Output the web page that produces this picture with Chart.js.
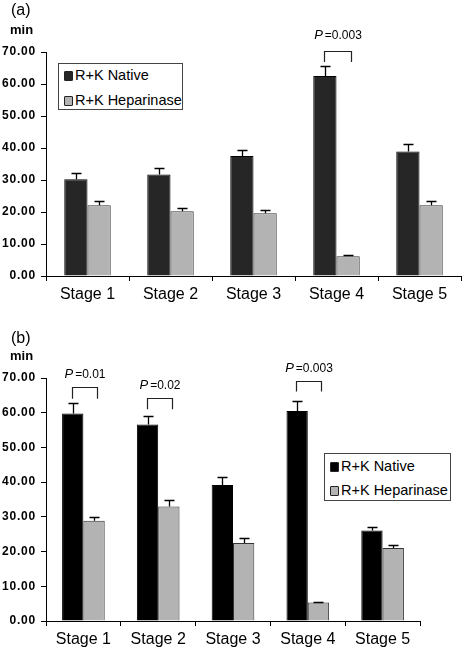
<!DOCTYPE html>
<html>
<head>
<meta charset="utf-8">
<script src="https://cdn.jsdelivr.net/npm/chart.js@4/dist/chart.umd.min.js"></script>
<style>
  html,body{margin:0;padding:0;background:#fff;}
  body{width:462px;height:651px;position:relative;overflow:hidden;font-family:"Liberation Sans",Arial,sans-serif;color:#000;}
  .wrap{position:absolute;left:0;width:462px;}
  .panel{position:absolute;left:11px;font-size:16px;line-height:20px;}
  .unit{position:absolute;left:10px;font-size:13px;font-weight:bold;line-height:16px;}
  .legend{position:absolute;border:1px solid #444;background:#fff;box-sizing:border-box;}
  .item{position:absolute;left:5px;height:20px;line-height:20px;font-size:14.5px;white-space:nowrap;}
  .sw{display:inline-block;width:7px;height:8px;border:1px solid #222;border-radius:1px;margin-right:2px;vertical-align:-1px;}
</style>
</head>
<body>
<script>
// ---------- data ----------
const stages = ['Stage 1', 'Stage 2', 'Stage 3', 'Stage 4', 'Stage 5'];
const seriesNames = ['R+K Native', 'R+K Heparinase'];
const yTickValues = [0, 10, 20, 30, 40, 50, 60, 70];

// panel (a)
const nativeA    = [30.2, 31.7, 37.5, 62.5, 38.9];
const nativeAErr = [2.0, 1.9, 1.9, 3.0, 2.3];
const heparA     = [22.1, 20.2, 19.6, 6.2, 22.1];
const heparAErr  = [1.2, 1.2, 1.1, 0.4, 1.2];

// panel (b)
const nativeB    = [59.8, 56.6, 39.2, 60.5, 26.1];
const nativeBErr = [3.1, 2.5, 2.3, 2.9, 1.1];
const heparB     = [28.9, 33.0, 22.5, 5.3, 21.0];
const heparBErr  = [1.2, 1.8, 1.3, 0.3, 0.9];

// significance annotations: stage index, p text, bracket levels (in minutes)
const pStageA = [3];
const pTextA  = ['=0.003'];
const pTopA   = [70.3];
const pLegA   = [66.9];
const pLabelA = [75.2];

const pStageB = [0, 1, 3];
const pTextB  = ['=0.01', '=0.02', '=0.003'];
const pTopB   = [67.3, 64.2, 69.2];
const pLegB   = [64.0, 61.0, 66.1];
const pLabelB = [70.9, 67.8, 72.8];
</script>

<div class="wrap" style="top:0;height:320px;">
  <canvas id="ca" width="462" height="320"></canvas>
  <div class="panel" style="top:0px;">(a)</div>
  <div class="unit" style="top:22px;">min</div>
  <div class="legend" style="left:58px;top:63px;width:125px;height:47px;">
    <div class="item" style="top:1px;"><span class="sw" style="background:#262626"></span>R+K Native</div>
    <div class="item" style="top:26px;"><span class="sw" style="background:#b3b3b3"></span>R+K Heparinase</div>
  </div>
</div>

<div class="wrap" style="top:320px;height:331px;">
  <canvas id="cb" width="462" height="331"></canvas>
  <div class="panel" style="top:8px;">(b)</div>
  <div class="unit" style="top:28px;">min</div>
  <div class="legend" style="left:324px;top:133px;width:127px;height:48px;">
    <div class="item" style="top:2px;"><span class="sw" style="background:#000"></span>R+K Native</div>
    <div class="item" style="top:26px;"><span class="sw" style="background:#b3b3b3"></span>R+K Heparinase</div>
  </div>
</div>

<script>
const FONT = '"Liberation Sans", Arial, sans-serif';

const ySpacingPlugin = {
  id: 'ySpacing',
  afterUpdate(chart) {
    const s = chart.scales.y;
    if (s && !s._spaced) {
      const orig = s.drawLabels;
      s.drawLabels = function (area) {
        const ctx = this.ctx;
        ctx.save();
        ctx.letterSpacing = '0.8px';
        orig.call(this, area);
        ctx.restore();
      };
      s._spaced = true;
    }
  }
};

function errorAndPPlugin(errs, stageIdx, texts, tops, legs, labels) {
  return {
    id: 'errP',
    afterDatasetsDraw(chart) {
      const ctx = chart.ctx, y = chart.scales.y;
      ctx.save();
      ctx.strokeStyle = '#000';
      ctx.lineWidth = 1.3;
      chart.data.datasets.forEach((ds, di) => {
        const meta = chart.getDatasetMeta(di);
        meta.data.forEach((bar, i) => {
          const v = ds.data[i], e = errs[di][i];
          const x = Math.round(bar.x) + 0.5;
          const y0 = y.getPixelForValue(v), y1 = Math.round(y.getPixelForValue(v + e)) + 0.5;
          ctx.beginPath();
          ctx.moveTo(x, y0); ctx.lineTo(x, y1);
          ctx.moveTo(x - 5, y1); ctx.lineTo(x + 5, y1);
          ctx.stroke();
        });
      });
      ctx.restore();
    },
    afterDraw(chart) {
      const ctx = chart.ctx, y = chart.scales.y;
      const m0 = chart.getDatasetMeta(0), m1 = chart.getDatasetMeta(1);
      ctx.save();
      ctx.strokeStyle = '#222';
      ctx.lineWidth = 1.2;
      stageIdx.forEach((si, k) => {
        const xl = Math.round(m0.data[si].x - 1) + 0.5;
        const xr = Math.round(m1.data[si].x + 3) + 0.5;
        const yt = Math.round(y.getPixelForValue(tops[k])) + 0.5;
        const yb = y.getPixelForValue(legs[k]);
        ctx.beginPath();
        ctx.moveTo(xl, yb); ctx.lineTo(xl, yt); ctx.lineTo(xr, yt); ctx.lineTo(xr, yb);
        ctx.stroke();
        // label: italic P followed by value
        const yl = y.getPixelForValue(labels[k]);
        const fP = 'italic 13px ' + FONT, fV = '12px ' + FONT;
        ctx.font = fP; const wP = ctx.measureText('P').width;
        ctx.font = fV; const wV = ctx.measureText(texts[k]).width;
        const gap = 2;
        const total = wP + gap + wV;
        const cx = (xl + xr) / 2;
        let sx = cx - total / 2;
        ctx.fillStyle = '#000';
        ctx.textBaseline = 'middle';
        ctx.textAlign = 'left';
        ctx.font = fP; ctx.fillText('P', sx, yl);
        ctx.font = fV; ctx.fillText(texts[k], sx + wP + gap, yl);
      });
      ctx.restore();
    }
  };
}

function makeChart(id, natData, hepData, natColor, errs, pInfo, pad, xHeight, catPct) {
  return new Chart(document.getElementById(id), {
    type: 'bar',
    data: {
      labels: stages,
      datasets: [
        { label: seriesNames[0], data: natData, backgroundColor: natColor, borderColor: '#000', borderWidth: 1, borderSkipped: 'bottom' },
        { label: seriesNames[1], data: hepData, backgroundColor: '#b3b3b3', borderColor: '#333', borderWidth: 1, borderSkipped: 'bottom' }
      ]
    },
    options: {
      responsive: false,
      animation: false,
      devicePixelRatio: 1,
      layout: { padding: pad },
      datasets: { bar: { categoryPercentage: catPct, barPercentage: 1.0 } },
      plugins: { legend: { display: false }, tooltip: { enabled: false }, title: { display: false } },
      scales: {
        x: {
          offset: true,
          grid: { display: true, offset: true, drawOnChartArea: false, drawTicks: true, tickLength: 5, color: '#000', lineWidth: 1 },
          border: { display: true, color: '#000', width: 1 },
          ticks: { color: '#000', font: { family: FONT, size: 16 }, padding: 4, maxRotation: 0 },
          afterFit(s) { s.height = xHeight; }
        },
        y: {
          min: 0, max: 70,
          afterBuildTicks(s) { s.ticks = yTickValues.map(v => ({ value: v })); },
          grid: { display: true, drawOnChartArea: false, drawTicks: true, tickLength: 5, color: '#000', lineWidth: 1 },
          border: { display: true, color: '#000', width: 1 },
          ticks: { color: '#000', font: { family: FONT, size: 12, weight: 'bold' }, padding: 5, callback: v => Number(v).toFixed(2) },
          afterFit(s) { s.width = 46; }
        }
      }
    },
    plugins: [ySpacingPlugin, errorAndPPlugin(errs, ...pInfo)]
  });
}

makeChart('ca', nativeA, heparA, '#262626', [nativeAErr, heparAErr],
  [pStageA, pTextA, pTopA, pLegA, pLabelA],
  { top: 52, right: 1, bottom: 0, left: 0 }, 44, 0.56);

makeChart('cb', nativeB, heparB, '#000000', [nativeBErr, heparBErr],
  [pStageB, pTextB, pTopB, pLegB, pLabelB],
  { top: 58, right: 42, bottom: 0, left: 0 }, 30, 0.57);
</script>
</body>
</html>
